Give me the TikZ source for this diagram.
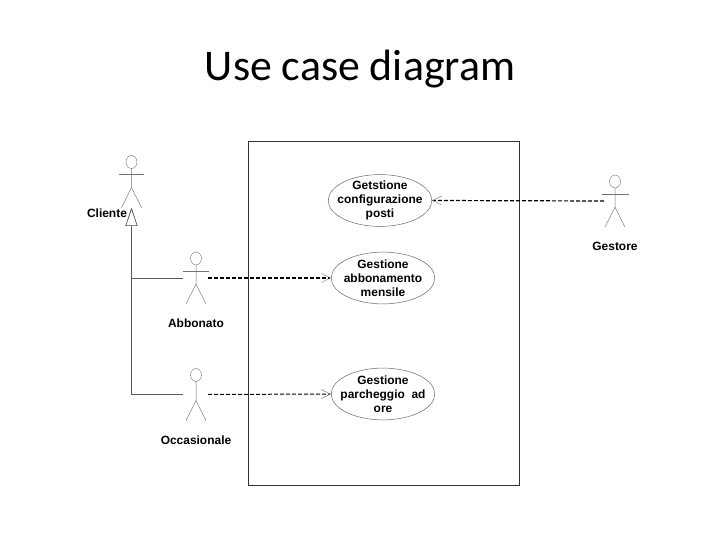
\documentclass[tikz,border=0pt]{standalone}
\usepackage{fontspec}
\setmainfont{Liberation Sans}
\newfontfamily\titlefont{Carlito}
\usetikzlibrary{arrows.meta, shapes.geometric}

% stick figure: name, x of body, y of head centre
\newcommand{\actorfig}[3]{
    \node[actor head] (#1) at (#2, #3) {};
    \coordinate (#1-w) at (#2-13, #3+19.5);
    \coordinate (#1-e) at (#2+12, #3+19.5);
    \coordinate (#1-f) at (#2, #3+46);
    \draw[actor line] (#1.south) -- ++(0, 19) -- ++(-10, 20);
    \draw[actor line] (#1.south) ++(0, 19) -- ++(10, 20);
}

\begin{document}
\begin{tikzpicture}[
    x=1bp, y=-1bp,
    font=\fontsize{12}{14}\selectfont\bfseries,
    actor head/.style={draw=black!55, ellipse, minimum width=11pt, minimum height=13pt, inner sep=0pt},
    actor line/.style={draw=black!55, line width=0.5pt},
    actor label/.style={text=black, inner sep=0pt},
    use case/.style={draw=black!60, line width=0.5pt, ellipse, minimum width=104pt, minimum height=52pt, inner sep=0pt},
    use text/.style={align=center, inner sep=0pt},
    inherit/.style={draw=black!65, line width=0.6pt, -{Triangle[open, length=18pt, width=12pt, fill=white]}},
    uses/.style={draw=black, dash pattern=on 4bp off 2bp, -{Straight Barb[length=9pt, width=9pt, line width=0.4pt, black!60]}},
]
\useasboundingbox (0, 0) rectangle (720, 540);

% Title
\node[font=\titlefont\fontsize{44}{48}\selectfont, text=black] (title) at (360, 69) {Use case diagram};

% System boundary
\node[draw=black!80, line width=1pt, minimum width=271bp, minimum height=343bp, inner sep=0pt] (sys) at (383.5, 313.5) {};

% Use cases
\node[use case] (UC1) at (380, 200.5) {};
\node[use text] (UC1T) at (UC1) {Getstione\\configurazione\\posti};
\node[use case] (UC2) at (383, 278) {};
\node[use text] (UC2T) at (UC2) {Gestione\\abbonamento\\mensile};
\node[use case] (UC3) at (383, 394) {};
\node[use text] (UC3T) at (UC3) {Gestione\\parcheggio\ \ ad\\ore};

% Actors
\actorfig{Cl}{131.5}{162}
\actorfig{Ab}{196}{258.5}
\actorfig{Oc}{196}{375}
\actorfig{Ge}{615}{181.5}
\draw[actor line] (Cl-w) ++(0.5, -7) -- ++(25, 0);
\draw[actor line] (Ab-w) ++(0, -6.5) -- ++(26, 0);
\draw[actor line] (Ge-w) ++(0, -7) -- ++(27, 0);

% Actor labels
\node[actor label] (ClT) at (107, 213.5) {Cliente};
\node[actor label] (AbT) at (196, 323.5) {Abbonato};
\node[actor label] (OcT) at (196, 440) {Occasionale};
\node[actor label] (GeT) at (615, 246) {Gestore};

% Generalisations
\draw[inherit] (Ab-w) -| (Cl-f);
\draw[inherit] (Oc-w) -| (Cl-f);

% Dashed links
\draw[uses, line width=1.5pt] (Ab-e) -- (UC2.west);
\draw[uses, line width=1pt] (Oc-e) -- (UC3.west);
\draw[uses, line width=1.2pt] ([xshift=2pt]Ge-w) -- (UC1.east);

\end{tikzpicture}
\end{document}
